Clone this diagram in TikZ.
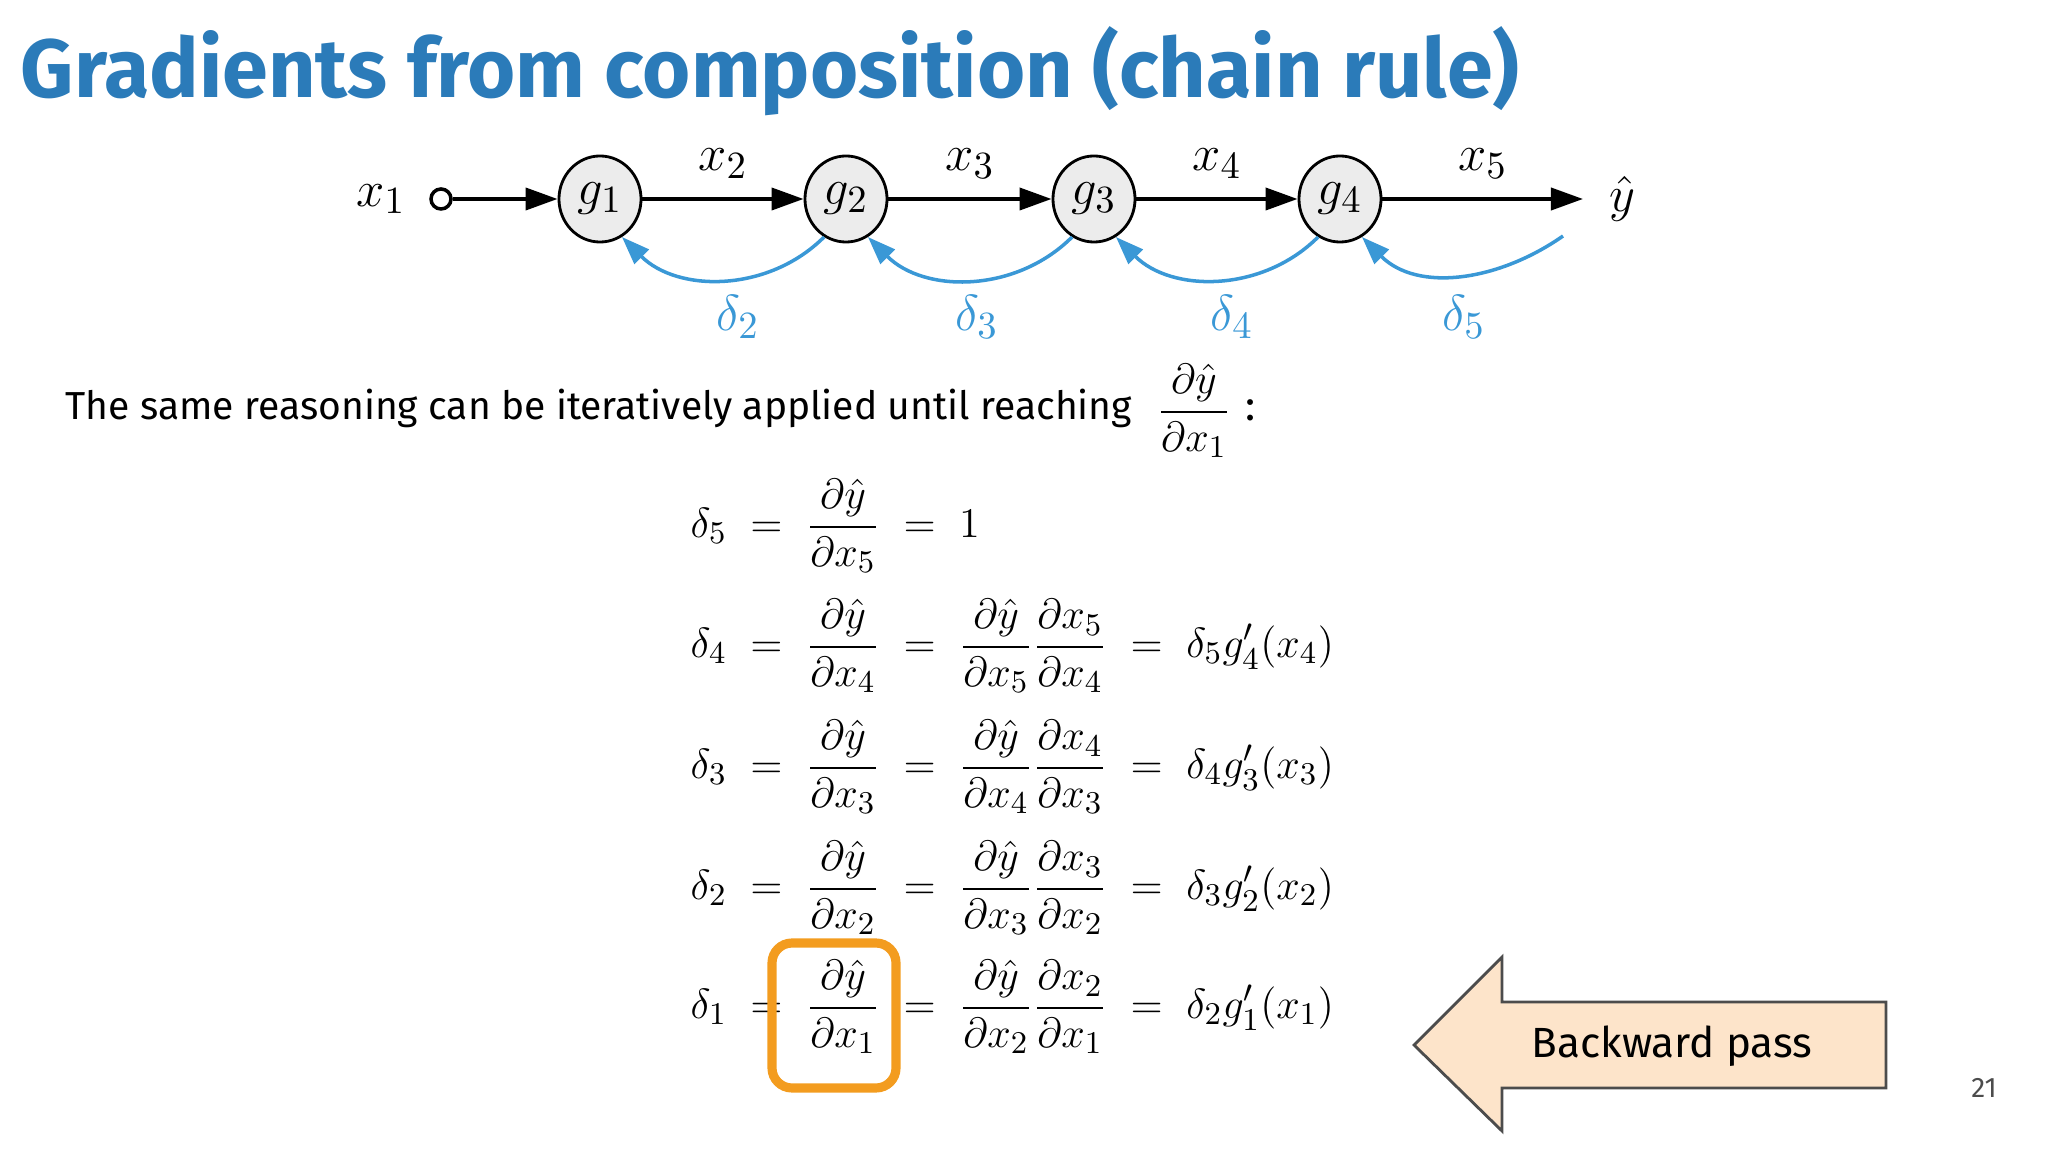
\documentclass[tikz,border=0pt]{standalone}
\usepackage{fontspec}
\usepackage{amsmath}
\setmainfont{Fira Sans}
\newfontfamily\titlefont{Fira Sans}
\usetikzlibrary{arrows.meta}
\definecolor{titleblue}{HTML}{2B7BB9}
\definecolor{dblue}{HTML}{3A98D6}
\definecolor{boxorange}{HTML}{F39C1F}
\definecolor{peach}{HTML}{FDE4CA}
\tikzset{
  gnode/.style={draw,fill=gray!15,ellipse,minimum width=0.82cm,minimum height=0.86cm,inner sep=0pt,font=\fontsize{15}{18}\selectfont,line width=0.8pt},
  fwd/.style={-{Triangle[length=0.32cm,width=0.22cm]},line width=1.1pt},
  bwd/.style={-{Triangle[length=0.28cm,width=0.2cm]},dblue,line width=1pt},
  lab/.style={font=\fontsize{15}{18}\selectfont},
  eq/.style={anchor=west,inner sep=0pt,font=\fontsize{12.8}{15}\selectfont},
}
\usetikzlibrary{shapes.geometric}
\begin{document}
\begin{tikzpicture}[x=0.01cm,y=-0.01cm]
\useasboundingbox (0,0) rectangle (2048,1152);
\node[anchor=base west,inner sep=0pt,text=titleblue,font=\titlefont\fontsize{23.5}{28}\selectfont\bfseries] (title) at (20,98) {Gradients from composition (chain rule)};
% graph
\node[lab] (x1) at (381,199) {$x_1$};
\node[draw,circle,minimum size=0.2cm,inner sep=0pt,line width=1pt] (c0) at (441,199) {};
\node[gnode] (g1) at (600,199) {$g_1$};
\node[gnode] (g2) at (846,199) {$g_2$};
\node[gnode] (g3) at (1094,199) {$g_3$};
\node[gnode] (g4) at (1340,199) {$g_4$};
\node[lab] (y) at (1622,199) {$\hat y$};
\coordinate (yend) at (1583,199);
\draw[fwd] (c0) -- (g1);
\draw[fwd] (g1) -- node[lab,above=2pt]{$x_2$} (g2);
\draw[fwd] (g2) -- node[lab,above=2pt]{$x_3$} (g3);
\draw[fwd] (g3) -- node[lab,above=2pt]{$x_4$} (g4);
\draw[fwd] (g4) -- node[lab,above=2pt]{$x_5$} (yend);
\coordinate (s5) at (1563,236);
\draw[bwd] (g2.-120) to[out=-135,in=-45] (g1.-60);
\draw[bwd] (g3.-120) to[out=-135,in=-45] (g2.-60);
\draw[bwd] (g4.-120) to[out=-135,in=-45] (g3.-60);
\draw[bwd] (s5) to[out=-145,in=-45] (g4.-60);
\node[lab,text=dblue] (d2) at (738,317) {$\delta_2$};
\node[lab,text=dblue] (d3) at (977,317) {$\delta_3$};
\node[lab,text=dblue] (d4) at (1232,317) {$\delta_4$};
\node[lab,text=dblue] (d5) at (1464,317) {$\delta_5$};
% text
\node[anchor=base west,inner sep=0pt,font=\fontsize{11.1}{13}\selectfont] (txt) at (65,420) {The same reasoning can be iteratively applied until reaching};
\node[inner sep=0pt,font=\fontsize{12.8}{15}\selectfont] (fr) at (1194,411) {$\dfrac{\partial\hat y}{\partial x_1}$};
\node[inner sep=0pt,font=\fontsize{12}{14}\selectfont] (colon) at (1251,410) {:};
% equations
\node[eq] (e5) at (690,526) {$\delta_5 \;=\; \dfrac{\partial\hat y}{\partial x_5} \;=\; 1$};
\node[eq] (e4) at (690,646) {$\delta_4 \;=\; \dfrac{\partial\hat y}{\partial x_4} \;=\; \dfrac{\partial\hat y}{\partial x_5}\dfrac{\partial x_5}{\partial x_4} \;=\; \delta_5 g_4'(x_4)$};
\node[eq] (e3) at (690,767) {$\delta_3 \;=\; \dfrac{\partial\hat y}{\partial x_3} \;=\; \dfrac{\partial\hat y}{\partial x_4}\dfrac{\partial x_4}{\partial x_3} \;=\; \delta_4 g_3'(x_3)$};
\node[eq] (e2) at (690,888) {$\delta_2 \;=\; \dfrac{\partial\hat y}{\partial x_2} \;=\; \dfrac{\partial\hat y}{\partial x_3}\dfrac{\partial x_3}{\partial x_2} \;=\; \delta_3 g_2'(x_2)$};
\node[eq] (e1) at (690,1007) {$\delta_1 \;=\; \dfrac{\partial\hat y}{\partial x_1} \;=\; \dfrac{\partial\hat y}{\partial x_2}\dfrac{\partial x_2}{\partial x_1} \;=\; \delta_2 g_1'(x_1)$};
\draw[boxorange,line width=2.6pt,rounded corners=0.2cm] (772,943) rectangle (896,1088);
% backward pass arrow
\draw[fill=peach,draw=black!70,line width=0.8pt] (1414,1045) -- (1502,957) -- (1502,1002) -- (1886,1002) -- (1886,1088) -- (1502,1088) -- (1502,1131) -- cycle;
\node[font=\fontsize{12}{14}\selectfont] (bp) at (1672,1046) {Backward pass};
\node[font=\fontsize{8}{10}\selectfont,text=black!70] (pg) at (1984,1088) {21};
\end{tikzpicture}
\end{document}
